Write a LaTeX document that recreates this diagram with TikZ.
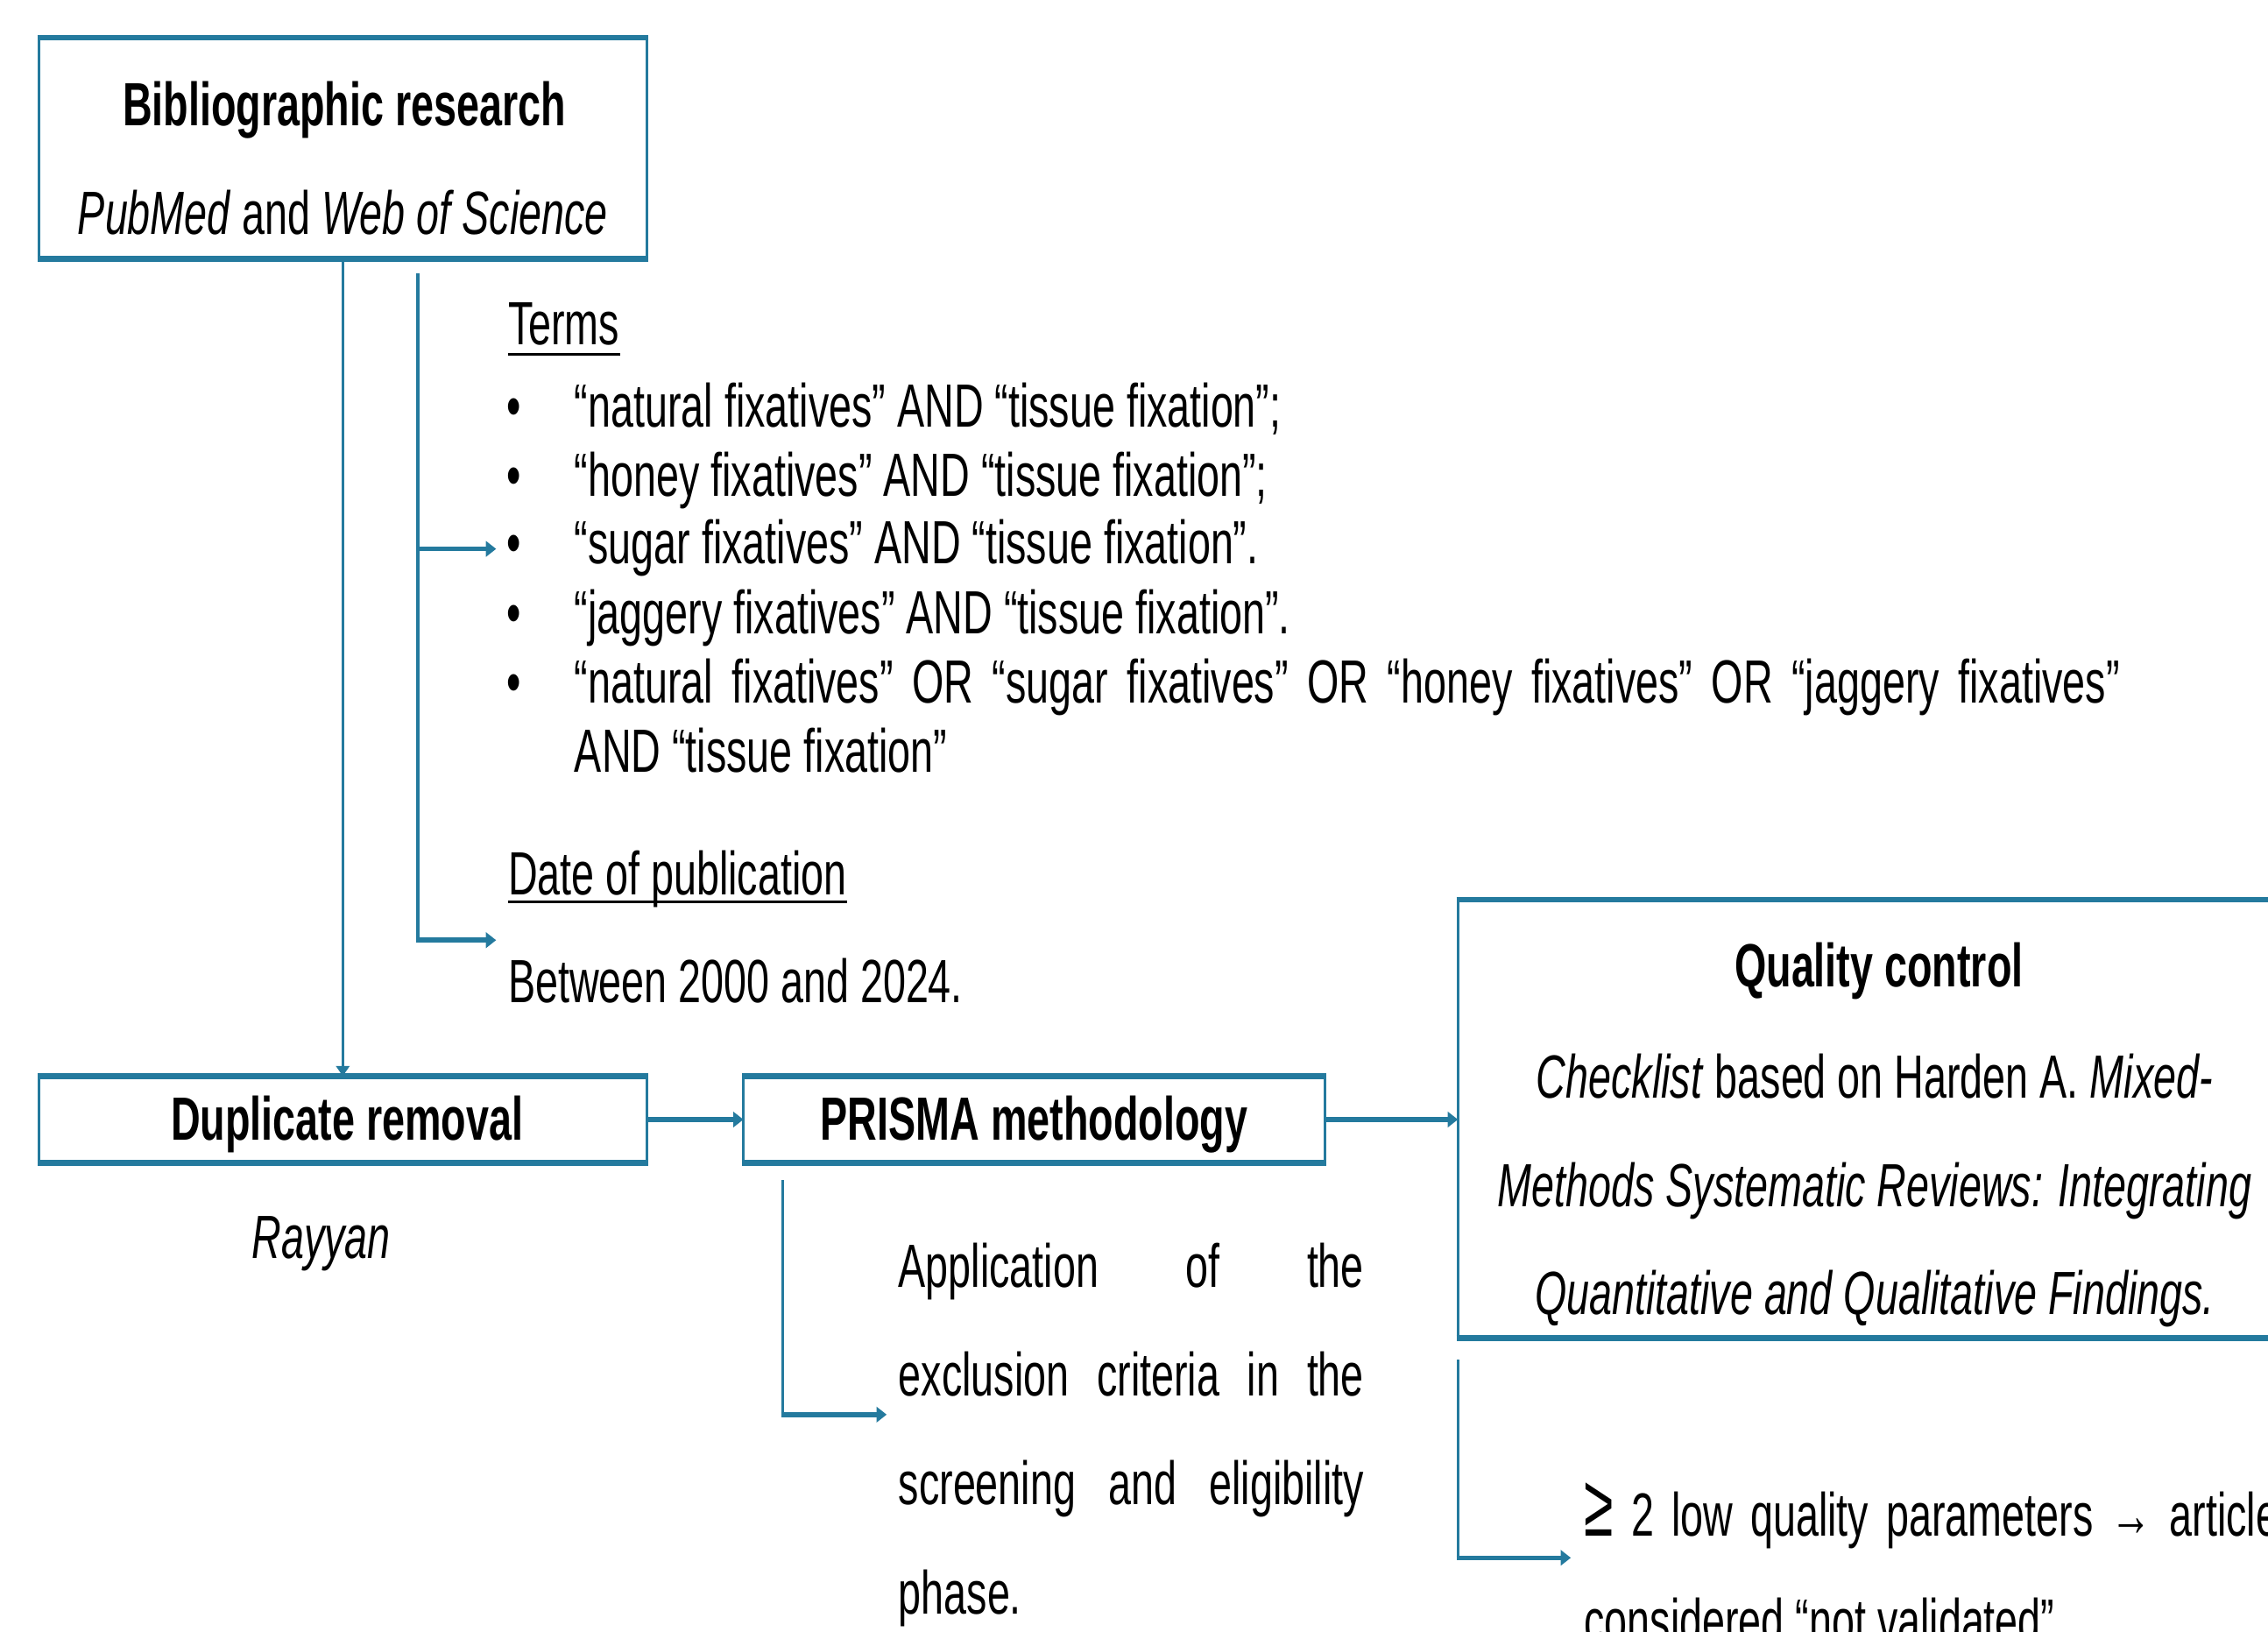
\documentclass[tikz,border=0pt]{standalone}
\usepackage{fontspec}
\usepackage{graphicx}
\setmainfont[FakeStretch=0.67]{Liberation Sans}
\usetikzlibrary{arrows.meta}
\definecolor{myblue}{RGB}{36,122,158}
\begin{document}
\begin{tikzpicture}[x=0.025cm,y=-0.025cm,
  box/.style={draw=myblue,line width=1.4pt,inner sep=0pt,outer sep=0pt},
  hedge/.style={draw=myblue,line width=2.8pt,shorten <=-0.7pt,shorten >=-0.7pt},
  txt/.style={inner sep=0pt,font=\fontsize{30}{36}\selectfont},
  vline/.style={draw=myblue,line width=1.5pt},
  conn/.style={draw=myblue,line width=2.4pt,-{Triangle[length=5pt,width=7.5pt]}},
  vconn/.style={draw=myblue,line width=1.5pt,-{Triangle[length=5pt,width=6.5pt]}},
  ulline/.style={draw=black,line width=1.3pt}]
\useasboundingbox (0,0) rectangle (1568,1128);
\clip (0,0) rectangle (1568,1128);
% boxes
\node[box,minimum width=10.5cm,minimum height=3.825cm] (b1) at (237,102.5) {};
\node[box,minimum width=10.5cm,minimum height=1.5cm] (dup) at (237,774) {};
\node[box,minimum width=10.05cm,minimum height=1.5cm] (prisma) at (715,774) {};
\node[box,minimum width=14.55cm,minimum height=7.575cm] (qc) at (1299,773.5) {};
\foreach \b in {b1,dup,prisma,qc}{
  \draw[hedge] (\b.north west) -- (\b.north east);
  \draw[hedge] (\b.south west) -- (\b.south east);
}
% box texts
\node[txt,anchor=base] (t1) at (238,87) {\textbf{Bibliographic research}};
\node[txt,anchor=base] (t2) at (237,162) {\textit{PubMed} and \textit{Web of Science}};
\node[txt,anchor=base] (tdup) at (240,788) {\textbf{Duplicate removal}};
\node[txt,anchor=base] (ray) at (222,870) {\textit{Rayyan}};
\node[txt,anchor=base] (tpr) at (715,788) {\textbf{PRISMA methodology}};
\node[txt,anchor=base] (tqc) at (1299,682) {\textbf{Quality control}};
\node[txt,anchor=base] (qc1) at (1296,759) {\textit{Checklist} based on Harden A. \textit{Mixed-}};
\node[txt,anchor=base] (qc2) at (1296,834) {\textit{Methods Systematic Reviews: Integrating}};
\node[txt,anchor=base] (qc3) at (1296,908.5) {\textit{Quantitative and Qualitative Findings.}};
% terms
\node[txt,anchor=base west] (terms) at (351,238.5) {Terms};
\draw[ulline] ([yshift=-4.5pt]terms.base west) -- ([yshift=-4.5pt]terms.base east);
\node[txt,anchor=base] (bu1) at (355.5,295) {\textbullet};
\node[txt,anchor=base] (bu2) at (355.5,343) {\textbullet};
\node[txt,anchor=base] (bu3) at (355.5,390) {\textbullet};
\node[txt,anchor=base] (bu4) at (355.5,438) {\textbullet};
\node[txt,anchor=base] (bu5) at (355.5,486) {\textbullet};
\node[txt,anchor=base west] (l1) at (397,295) {“natural fixatives” AND “tissue fixation”;};
\node[txt,anchor=base west] (l2) at (397,343) {“honey fixatives” AND “tissue fixation”;};
\node[txt,anchor=base west] (l3) at (397,390) {“sugar fixatives” AND “tissue fixation”.};
\node[txt,anchor=base west] (l4) at (397,438) {“jaggery fixatives” AND “tissue fixation”.};
\node[txt,anchor=base west] (l5) at (397,486) {\makebox[26.7cm][s]{“natural fixatives” OR “sugar fixatives” OR “honey fixatives” OR “jaggery fixatives”}};
\node[txt,anchor=base west] (l6) at (397,534) {AND “tissue fixation”};
\node[txt,anchor=base west] (date) at (351,618.5) {Date of publication};
\draw[ulline] ([yshift=-3.5pt]date.base west) -- ([yshift=-3.5pt]date.base east);
\node[txt,anchor=base west] (betw) at (351,693) {Between 2000 and 2024.};
% PRISMA text
\node[txt,anchor=base west] (ap1) at (621,890) {\makebox[8.04cm][s]{Application of the}};
\node[txt,anchor=base west] (ap2) at (621,965) {\makebox[8.04cm][s]{exclusion criteria in the}};
\node[txt,anchor=base west] (ap3) at (621,1040) {\makebox[8.04cm][s]{screening and eligibility}};
\node[txt,anchor=base west] (ap4) at (621,1116) {phase.};
% quality text
\node[txt,anchor=base west] (ql1) at (1095,1062) {\makebox[12cm][s]{\scalebox{1.3}[1.45]{≥} 2 low quality parameters → article}};
\node[txt,anchor=base west] (ql2) at (1095,1135) {considered “not validated”};
% connectors
\coordinate (t0) at (289,189);
\coordinate (a1) at (343,379.5);
\coordinate (a2) at (343,650);
\coordinate (p0) at (541,816);
\coordinate (p1) at (613,978);
\coordinate (q0) at (1008,940);
\coordinate (q1) at (1086,1077);
\draw[vconn] (b1) -- (dup);
\draw[vline] (t0) -- (t0 |- a2);
\draw[conn,shorten <=-0.75pt] (t0 |- a2) -- (a2);
\draw[conn] (t0 |- a1) -- (a1);
\draw[conn] (dup) -- (prisma);
\draw[conn] (prisma.east) -- (prisma.east -| qc.west);
\draw[vline] (p0) -- (p0 |- p1);
\draw[conn,shorten <=-0.75pt] (p0 |- p1) -- (p1);
\draw[vline] (q0) -- (q0 |- q1);
\draw[conn,shorten <=-0.75pt] (q0 |- q1) -- (q1);
\end{tikzpicture}
\end{document}
